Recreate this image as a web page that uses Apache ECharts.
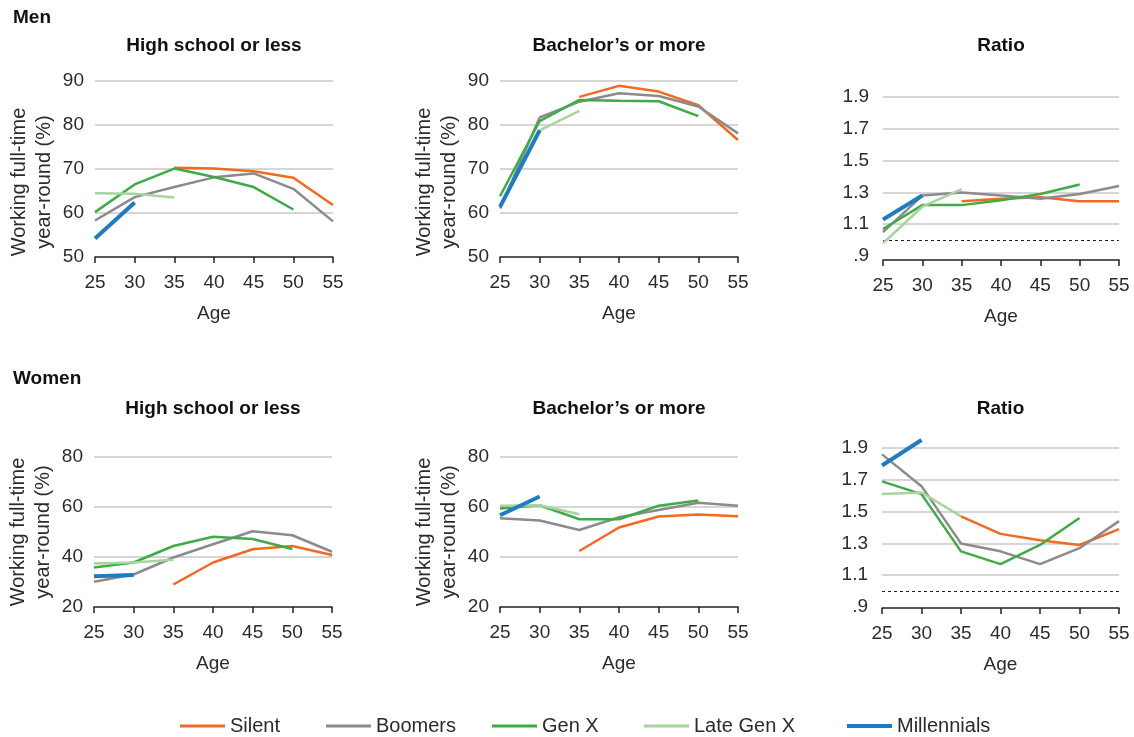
<!DOCTYPE html>
<html>
<head>
<meta charset="utf-8">
<script src="https://cdn.jsdelivr.net/npm/echarts@6/dist/echarts.min.js"></script>
<style>
  html, body { margin: 0; padding: 0; background: #fff; }
  #chart { width: 1134px; height: 737px; }
</style>
</head>
<body>
<div id="chart"></div>
<script>
// ages on the x axis
var ages = [25, 30, 35, 40, 45, 50, 55];
var generations = ['Silent', 'Boomers', 'Gen X', 'Late Gen X', 'Millennials'];

// Men, high school or less (%)
var menHsSilent = [null, null, 70.3, 70.1, 69.5, 68.0, 61.8];
var menHsBoomers = [58.3, 63.6, 65.9, 68.1, 69.0, 65.5, 58.1];
var menHsGenX = [60.2, 66.5, 70.1, 68.2, 65.9, 60.8, null];
var menHsLateGenX = [64.5, 64.4, 63.5, null, null, null, null];
var menHsMillennials = [54.2, 62.4, null, null, null, null, null];

// Men, bachelor's or more (%)
var menBaSilent = [null, null, 86.4, 88.9, 87.6, 84.5, 76.6];
var menBaBoomers = [61.0, 81.7, 85.3, 87.2, 86.6, 84.2, 78.1];
var menBaGenX = [63.8, 80.9, 85.7, 85.5, 85.4, 82.0, null];
var menBaLateGenX = [null, 78.8, 83.2, null, null, null, null];
var menBaMillennials = [61.4, 78.8, null, null, null, null, null];

// Men, ratio
var menRatioSilent = [null, null, 1.245, 1.26, 1.27, 1.245, 1.245];
var menRatioBoomers = [1.05, 1.28, 1.30, 1.28, 1.26, 1.29, 1.34];
var menRatioGenX = [1.07, 1.22, 1.22, 1.25, 1.29, 1.35, null];
var menRatioLateGenX = [0.98, 1.21, 1.32, null, null, null, null];
var menRatioMillennials = [1.13, 1.28, null, null, null, null, null];

// Women, high school or less (%)
var womenHsSilent = [null, null, 29.0, 37.8, 43.1, 44.4, 40.8];
var womenHsBoomers = [30.1, 33.0, 39.8, 45.1, 50.3, 48.7, 42.1];
var womenHsGenX = [35.8, 37.8, 44.4, 48.1, 47.2, 43.2, null];
var womenHsLateGenX = [37.4, 37.8, 38.9, null, null, null, null];
var womenHsMillennials = [32.3, 32.8, null, null, null, null, null];

// Women, bachelor's or more (%)
var womenBaSilent = [null, null, 42.4, 51.8, 56.2, 57.0, 56.3];
var womenBaBoomers = [55.5, 54.6, 50.8, 55.9, 58.8, 61.7, 60.5];
var womenBaGenX = [59.4, 60.7, 55.1, 55.1, 60.5, 62.6, null];
var womenBaLateGenX = [60.5, 60.7, 57.1, null, null, null, null];
var womenBaMillennials = [56.7, 64.2, null, null, null, null, null];

// Women, ratio
var womenRatioSilent = [null, null, 1.47, 1.36, 1.32, 1.29, 1.39];
var womenRatioBoomers = [1.86, 1.66, 1.30, 1.25, 1.17, 1.27, 1.44];
var womenRatioGenX = [1.69, 1.61, 1.25, 1.17, 1.29, 1.46, null];
var womenRatioLateGenX = [1.61, 1.62, 1.47, null, null, null, null];
var womenRatioMillennials = [1.79, 1.95, null, null, null, null, null];

var colors = ['#f26a22', '#8b8b8d', '#3fab47', '#a8d49f', '#1f7cc1'];
var widths = [2.5, 2.5, 2.5, 2.5, 4];
var font = '"Liberation Sans", Arial, Helvetica, sans-serif';
var ink = '#2b2b2b';

// panel layout
var panels = [
  { title: 'High school or less', grid: [95, 81, 238, 176], min: 50, max: 90, step: 10, ratio: false, men: true,
    values: [menHsSilent, menHsBoomers, menHsGenX, menHsLateGenX, menHsMillennials] },
  { title: 'Bachelor\u2019s or more', grid: [500, 81, 238, 176], min: 50, max: 90, step: 10, ratio: false, men: true,
    values: [menBaSilent, menBaBoomers, menBaGenX, menBaLateGenX, menBaMillennials] },
  { title: 'Ratio', grid: [883, 97, 236, 159], min: 0.9, max: 1.9, step: 0.2, ratio: true, men: true, offset: 4,
    values: [menRatioSilent, menRatioBoomers, menRatioGenX, menRatioLateGenX, menRatioMillennials] },
  { title: 'High school or less', grid: [94, 457, 238, 150], min: 20, max: 80, step: 20, ratio: false, men: false,
    values: [womenHsSilent, womenHsBoomers, womenHsGenX, womenHsLateGenX, womenHsMillennials] },
  { title: 'Bachelor\u2019s or more', grid: [500, 457, 238, 150], min: 20, max: 80, step: 20, ratio: false, men: false,
    values: [womenBaSilent, womenBaBoomers, womenBaGenX, womenBaLateGenX, womenBaMillennials] },
  { title: 'Ratio', grid: [882, 448, 237, 159], min: 0.9, max: 1.9, step: 0.2, ratio: true, men: false, offset: 1,
    values: [womenRatioSilent, womenRatioBoomers, womenRatioGenX, womenRatioLateGenX, womenRatioMillennials] }
];

function pairs(arr) {
  return ages.map(function (a, i) { return [a, arr[i]]; });
}

var grids = [], xAxes = [], yAxes = [], titles = [], series = [];

titles.push({ text: 'Men', left: 13, top: 8, padding: 0,
  textStyle: { fontFamily: font, fontSize: 19, fontWeight: 'bold', color: '#111' } });
titles.push({ text: 'Women', left: 13, top: 369, padding: 0,
  textStyle: { fontFamily: font, fontSize: 19, fontWeight: 'bold', color: '#111' } });

panels.forEach(function (p, k) {
  var g = p.grid;
  grids.push({ left: g[0], top: g[1], width: g[2], height: g[3], outerBoundsMode: 'none' });

  titles.push({
    text: p.title, left: g[0] + g[2] / 2, top: p.men ? 36 : 399, textAlign: 'center', padding: 0,
    textStyle: { fontFamily: font, fontSize: 19, fontWeight: 'bold', color: '#111' }
  });

  xAxes.push({
    type: 'value', gridIndex: k, min: 25, max: 55, interval: 5,
    offset: p.offset || 0,
    name: 'Age', nameLocation: 'middle', nameGap: 47,
    nameTextStyle: { fontFamily: font, fontSize: 19, color: ink },
    axisLine: { show: true, onZero: false, lineStyle: { color: '#222', width: 1.5 } },
    axisTick: { show: true, length: 6, lineStyle: { color: '#222', width: 1.5 } },
    axisLabel: { fontFamily: font, fontSize: 19, color: ink, margin: 16 },
    splitLine: { show: false }
  });

  var y = {
    type: 'value', gridIndex: k, min: p.min, max: p.max, interval: p.step,
    axisLine: { show: false }, axisTick: { show: false },
    axisLabel: {
      fontFamily: font, fontSize: 19, color: ink, margin: p.ratio ? 14 : 11,
      formatter: function (v) {
        if (!p.ratio) return String(v);
        var s = v.toFixed(1);
        return s.charAt(0) === '0' ? s.substring(1) : s;
      }
    },
    splitLine: { show: true, showMinLine: false, lineStyle: { color: '#c9c9c9', width: 1.5 } }
  };
  if (!p.ratio) {
    y.name = 'Working full-time\nyear-round (%)';
    y.nameLocation = 'middle';
    y.nameGap = 38;
    y.nameTextStyle = { fontFamily: font, fontSize: 20, color: ink, lineHeight: 25,
      padding: p.men ? [0, 26, 0, 0] : 0 };
  }
  yAxes.push(y);

  p.values.forEach(function (vals, j) {
    var s = {
      name: generations[j], type: 'line', xAxisIndex: k, yAxisIndex: k,
      data: pairs(vals), symbol: 'none', connectNulls: false, clip: false,
      lineStyle: { color: colors[j], width: widths[j] },
      itemStyle: { color: colors[j] },
      z: 2 + j
    };
    if (p.ratio && j === 1) {
      s.markLine = {
        silent: true, symbol: 'none', label: { show: false },
        lineStyle: { color: '#222', type: [3, 3], width: 1 },
        data: [{ yAxis: 1.0 }]
      };
    }
    series.push(s);
  });
});

// one legend per item so each sits where the original put it
var legendLeft = [180, 326, 492, 644, 847];
var legends = generations.map(function (name, j) {
  return {
    data: [name], left: legendLeft[j], top: 716, padding: 0,
    icon: 'rect', itemWidth: 45, itemHeight: j === 4 ? 4 : 3,
    textStyle: { fontFamily: font, fontSize: 20, color: ink }
  };
});

var chart = echarts.init(document.getElementById('chart'));
chart.setOption({
  animation: false,
  backgroundColor: '#fff',
  title: titles,
  legend: legends,
  grid: grids,
  xAxis: xAxes,
  yAxis: yAxes,
  series: series
});
</script>
</body>
</html>
